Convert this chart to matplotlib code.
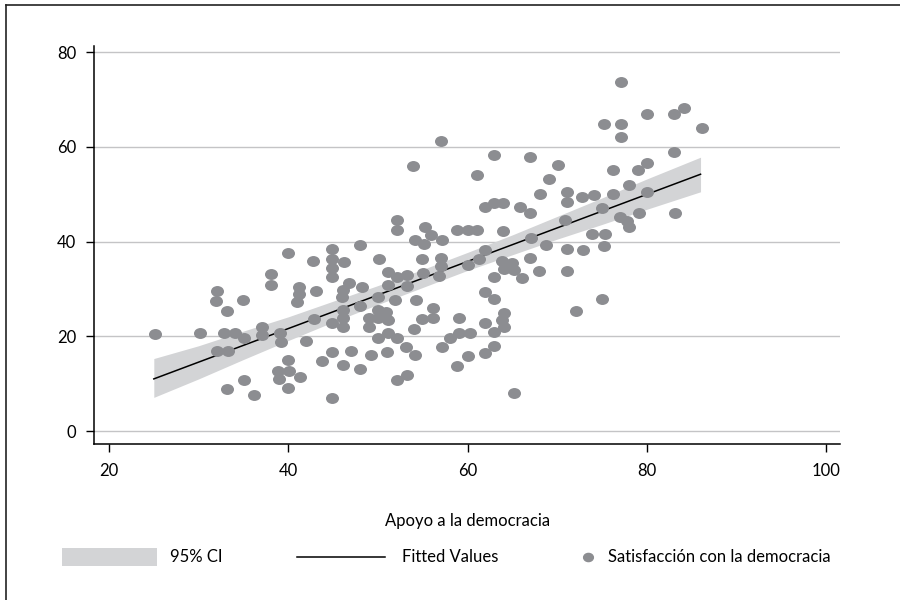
import matplotlib
matplotlib.use('Agg')
import matplotlib.pyplot as plt
from matplotlib.path import Path
from matplotlib.transforms import Affine2D
from matplotlib.patches import Rectangle
from matplotlib.lines import Line2D

plt.rcParams['font.family'] = ['Lato', 'DejaVu Sans']

# Apoyo a la democracia (x), Satisfacción con la democracia (y)
apoyo = [
    25.1, 30.2, 32.0, 31.9, 33.2, 34.9, 32.8, 34.1, 35.1, 32.0, 33.3, 33.2, 35.1, 36.2,
    38.1, 38.1, 40.0, 37.1, 37.1, 39.1, 39.2, 42.0, 42.9, 41.2, 41.2, 41.0, 43.1, 42.8,
    44.9, 44.9, 44.9, 44.9, 46.2, 40.0, 38.9, 40.1, 39.0, 41.3, 40.0, 44.9, 43.8, 46.1,
    44.9, 44.9, 46.1, 46.1, 46.1, 46.1, 46.8,
    48.0, 50.1, 46.0, 48.2, 50.0, 48.0, 49.0, 49.0, 50.0, 50.0, 50.9, 51.1, 50.0, 51.1,
    52.1, 53.1, 51.0, 54.1, 49.2, 47.0, 48.0, 52.1, 53.2, 52.1, 52.1, 51.1, 52.1, 53.2,
    51.1, 53.2, 51.9, 54.2, 56.2, 54.9, 56.1, 54.0, 54.1, 55.3, 55.9, 57.1, 55.2, 54.9,
    57.0, 57.0, 55.0, 56.8, 58.8, 60.0, 61.1, 62.0, 62.9, 64.0, 65.9, 67.0, 68.1, 64.0,
    62.0, 61.3, 60.1, 67.1, 67.0, 68.8, 63.8, 65.0, 64.1, 65.2, 62.9, 66.1, 68.0, 61.9,
    62.9, 59.0, 62.0, 64.1, 63.9, 64.1, 62.9, 59.1, 60.3, 58.1, 57.1, 62.9, 62.0, 60.0,
    58.8, 65.2,
    77.1, 75.2, 77.1, 77.1, 80.0, 83.0, 84.2, 86.2, 83.0, 67.0, 70.1, 69.1, 71.1, 71.1,
    72.8, 74.1, 76.2, 76.2, 78.0, 79.0, 80.0, 80.0, 75.0, 70.9, 77.0, 77.8, 78.0, 79.1,
    83.1, 73.9, 75.3, 71.1, 72.9, 75.2, 71.1, 75.0, 72.1,
    57.0, 53.9, 62.9, 61.1,
]
satisfaccion = [
    20.4, 20.6, 29.6, 27.4, 25.4, 27.6, 20.7, 20.7, 19.6, 16.9, 16.9, 8.8, 10.8, 7.6,
    33.1, 30.9, 37.5, 21.9, 20.3, 20.7, 18.8, 19.0, 23.6, 30.4, 28.9, 27.3, 29.5, 35.9,
    38.5, 36.4, 34.5, 32.6, 35.6, 15.0, 12.7, 12.7, 10.9, 11.5, 9.0, 16.7, 14.8, 13.9,
    6.9, 22.7, 21.9, 25.5, 23.8, 29.7, 31.3,
    39.2, 36.4, 28.3, 30.3, 28.3, 26.4, 23.8, 22.0, 25.5, 23.8, 25.2, 23.4, 19.6, 20.6,
    19.6, 17.8, 16.7, 16.0, 16.0, 16.9, 13.0, 10.8, 11.8, 44.5, 42.4, 33.6, 32.6, 32.9,
    30.8, 30.6, 27.6, 27.6, 25.9, 23.6, 23.8, 21.5, 40.3, 43.1, 41.4, 40.3, 39.5, 36.4,
    36.6, 34.8, 33.4, 32.7, 42.4, 42.4, 42.4, 47.2, 48.2, 48.2, 47.3, 46.1, 50.1, 42.3,
    38.3, 36.4, 35.0, 40.7, 36.6, 39.2, 35.9, 35.5, 34.1, 34.0, 32.6, 32.3, 33.8, 29.4,
    27.8, 23.8, 22.7, 25.0, 23.4, 22.0, 20.9, 20.6, 20.6, 19.6, 17.8, 18.0, 16.4, 15.8,
    13.7, 8.0,
    73.6, 64.9, 64.9, 62.0, 67.0, 66.9, 68.1, 63.9, 58.9, 57.9, 56.1, 53.2, 50.5, 48.4,
    49.4, 49.8, 55.2, 50.1, 51.9, 55.2, 56.5, 50.5, 47.1, 44.5, 45.2, 44.3, 43.0, 46.1,
    46.1, 41.6, 41.6, 38.5, 38.3, 39.1, 33.8, 27.8, 25.4,
    61.2, 55.9, 58.2, 54.1,
]

# Fitted values and 95% CI
fit_x = [25, 86]
fit_y = [11.0, 54.2]
ci_x = [25, 30, 35, 40, 45, 50, 55, 60, 65, 70, 75, 80, 86]
ci_hi = [15.3, 18.0, 21.1, 24.1, 27.4, 30.7, 34.1, 37.7, 41.4, 45.3, 49.2, 53.2, 57.8]
ci_lo = [7.1, 11.0, 15.1, 19.1, 23.0, 26.7, 30.3, 33.9, 37.2, 40.5, 43.6, 46.8, 50.5]

x_ticks = [20, 40, 60, 80, 100]
y_ticks = [0, 20, 40, 60, 80]

marker_col = '#8c8d91'
ci_col = '#d3d4d6'
grid_col = '#c4c4c6'

fig = plt.figure(figsize=(9, 6), dpi=100)
ax = fig.add_axes([94.3 / 900, 1 - 444 / 600, (840 - 94.3) / 900, (444 - 46) / 600])

ellipse = Path.unit_circle().transformed(Affine2D().scale(1.0, 0.84))

ax.fill_between(ci_x, ci_lo, ci_hi, color=ci_col, linewidth=0, zorder=2)
ax.plot(fit_x, fit_y, color='black', linewidth=1.1, zorder=3)
ax.scatter(apoyo, satisfaccion, s=88, marker=ellipse, color=marker_col,
           linewidths=0, zorder=4)

ax.set_xlim(18.36, 101.56)
ax.set_ylim(-2.74, 81.27)
ax.set_xticks(x_ticks)
ax.set_yticks(y_ticks)
ax.set_xticklabels([str(v) for v in x_ticks])
ax.set_yticklabels([str(v) for v in y_ticks])

for v in y_ticks:
    ax.axhline(v, color=grid_col, linewidth=1.0, zorder=1)

for side in ['top', 'right']:
    ax.spines[side].set_visible(False)
for side in ['left', 'bottom']:
    ax.spines[side].set_linewidth(1.1)
    ax.spines[side].set_color('black')

ax.tick_params(axis='both', direction='out', length=6, width=1.0, colors='black',
               labelsize=12)
ax.tick_params(axis='y', pad=7)
ax.tick_params(axis='x', pad=8)

ax.set_xlabel('Apoyo a la democracia', fontsize=12, labelpad=24)

# Legend (drawn in figure coordinates)
ly = 1 - 557 / 600
fig.add_artist(Rectangle((62 / 900, 1 - 566 / 600), 95 / 900, 18 / 600,
                         transform=fig.transFigure, color=ci_col, linewidth=0))
fig.text(170 / 900, ly, '95% CI', fontsize=12, va='center', ha='left')
fig.add_artist(Line2D([297 / 900, 385 / 900], [ly, ly], transform=fig.transFigure,
                      color='black', linewidth=1.1))
fig.text(402 / 900, ly, 'Fitted Values', fontsize=12, va='center', ha='left')
fig.add_artist(Line2D([588 / 900], [ly], transform=fig.transFigure, marker=ellipse,
                      markersize=7, color=marker_col, linewidth=0))
fig.text(608 / 900, ly, 'Satisfacción con la democracia', fontsize=12,
         va='center', ha='left')

# Outer frame (left and top edges visible)
fig.add_artist(Line2D([6 / 900, 6 / 900], [0, 1 - 5 / 600], transform=fig.transFigure,
                      color='#222222', linewidth=1.2))
fig.add_artist(Line2D([6 / 900, 1], [1 - 5 / 600, 1 - 5 / 600], transform=fig.transFigure,
                      color='#222222', linewidth=1.2))

fig.savefig('out.png', dpi=100)
